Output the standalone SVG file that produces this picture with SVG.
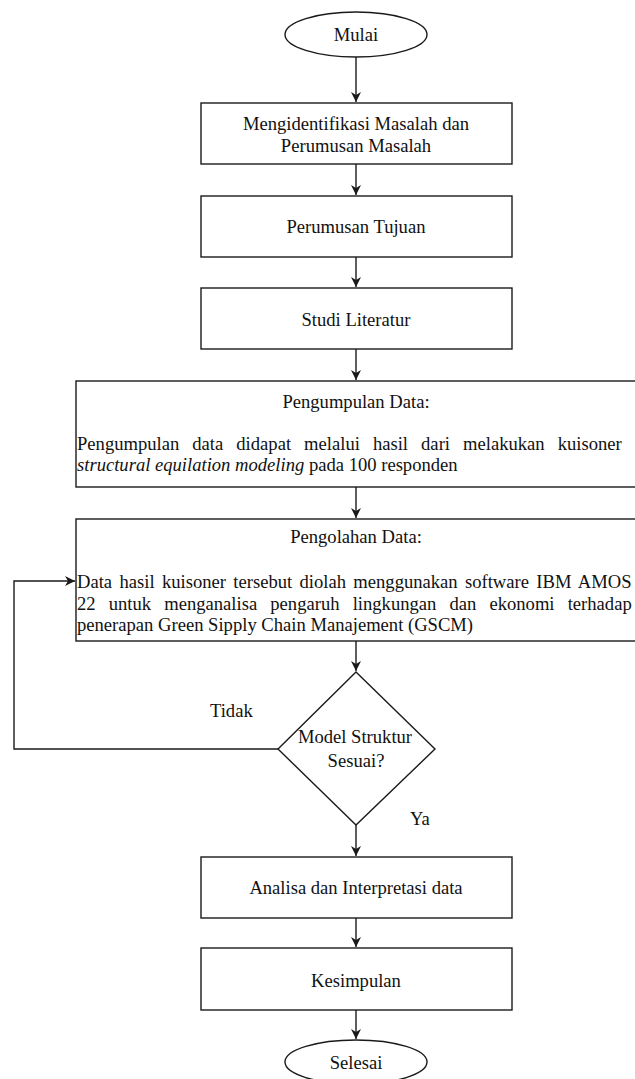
<svg xmlns="http://www.w3.org/2000/svg" width="635" height="1079" viewBox="0 0 635 1079">
<style>
.s{fill:#fff;stroke:#1a1a1a;stroke-width:1.4}
.t{font-family:'Liberation Serif','Tinos','DejaVu Serif',serif;font-size:18.6px;fill:#111}
.c{text-anchor:middle}
.e{fill:none;stroke:#1a1a1a;stroke-width:1.4}
</style>
<defs>
<marker id="a" viewBox="0 0 10 10" refX="10" refY="5" markerWidth="10" markerHeight="10" markerUnits="userSpaceOnUse" orient="auto">
<path d="M0,0 L10,5 L0,10 L3,5 Z" fill="#1a1a1a"/>
</marker>
</defs>
<rect width="635" height="1079" fill="#fff"/>
<g id="connectors">
<path class="e" d="M356,57 V102" marker-end="url(#a)"/>
<path class="e" d="M356,164 V195" marker-end="url(#a)"/>
<path class="e" d="M356,257 V287" marker-end="url(#a)"/>
<path class="e" d="M356,349 V380" marker-end="url(#a)"/>
<path class="e" d="M356,487 V518" marker-end="url(#a)"/>
<path class="e" d="M356,641 V671" marker-end="url(#a)"/>
<path class="e" d="M278,749 H14 V581 H75" marker-end="url(#a)"/>
<path class="e" d="M356,825 V856" marker-end="url(#a)"/>
<path class="e" d="M356,918 V947" marker-end="url(#a)"/>
<path class="e" d="M356,1010 V1039" marker-end="url(#a)"/>
</g>
<g id="mulai">
<ellipse class="s" cx="356" cy="34.5" rx="71" ry="22.5"/>
<text class="t c" x="356" y="41" font-family="Liberation Serif, serif">Mulai</text>
</g>
<g id="identifikasi">
<rect class="s" x="201" y="103" width="311" height="61"/>
<text class="t c" x="356" y="130">Mengidentifikasi Masalah dan</text>
<text class="t c" x="356" y="152">Perumusan Masalah</text>
</g>
<g id="tujuan">
<rect class="s" x="201" y="196" width="311" height="61"/>
<text class="t c" x="356" y="233">Perumusan Tujuan</text>
</g>
<g id="literatur">
<rect class="s" x="201" y="288" width="311" height="61"/>
<text class="t c" x="356" y="326">Studi Literatur</text>
</g>
<g id="pengumpulan">
<rect class="s" x="76" y="381" width="600" height="106"/>
<text class="t c" x="356" y="408">Pengumpulan Data:</text>
<text class="t" x="77" y="450" word-spacing="8.4">Pengumpulan data didapat melalui hasil dari melakukan kuisoner</text>
<text class="t" x="77" y="471"><tspan font-style="italic">structural equilation modeling</tspan> pada 100 responden</text>
</g>
<g id="pengolahan">
<rect class="s" x="76" y="519" width="600" height="122"/>
<text class="t c" x="356" y="543">Pengolahan Data:</text>
<text class="t" x="77" y="588" word-spacing="2.7">Data hasil kuisoner tersebut diolah menggunakan software IBM AMOS</text>
<text class="t" x="77" y="609.5" word-spacing="8.5">22 untuk menganalisa pengaruh lingkungan dan ekonomi terhadap</text>
<text class="t" x="77" y="631">penerapan Green Sipply Chain Manajement (GSCM)</text>
</g>
<g id="keputusan">
<polygon class="s" points="356,672 435,749 356,825 278,749"/>
<text class="t c" x="355" y="743">Model Struktur</text>
<text class="t c" x="356" y="767">Sesuai?</text>
<text class="t" x="210" y="717">Tidak</text>
<text class="t" x="410" y="825">Ya</text>
</g>
<g id="analisa">
<rect class="s" x="201" y="857" width="311" height="61"/>
<text class="t c" x="356" y="894">Analisa dan Interpretasi data</text>
</g>
<g id="kesimpulan">
<rect class="s" x="201" y="948" width="311" height="62"/>
<text class="t c" x="356" y="987">Kesimpulan</text>
</g>
<g id="selesai">
<ellipse class="s" cx="356" cy="1062" rx="71" ry="22"/>
<text class="t c" x="356" y="1069">Selesai</text>
</g>
</svg>
